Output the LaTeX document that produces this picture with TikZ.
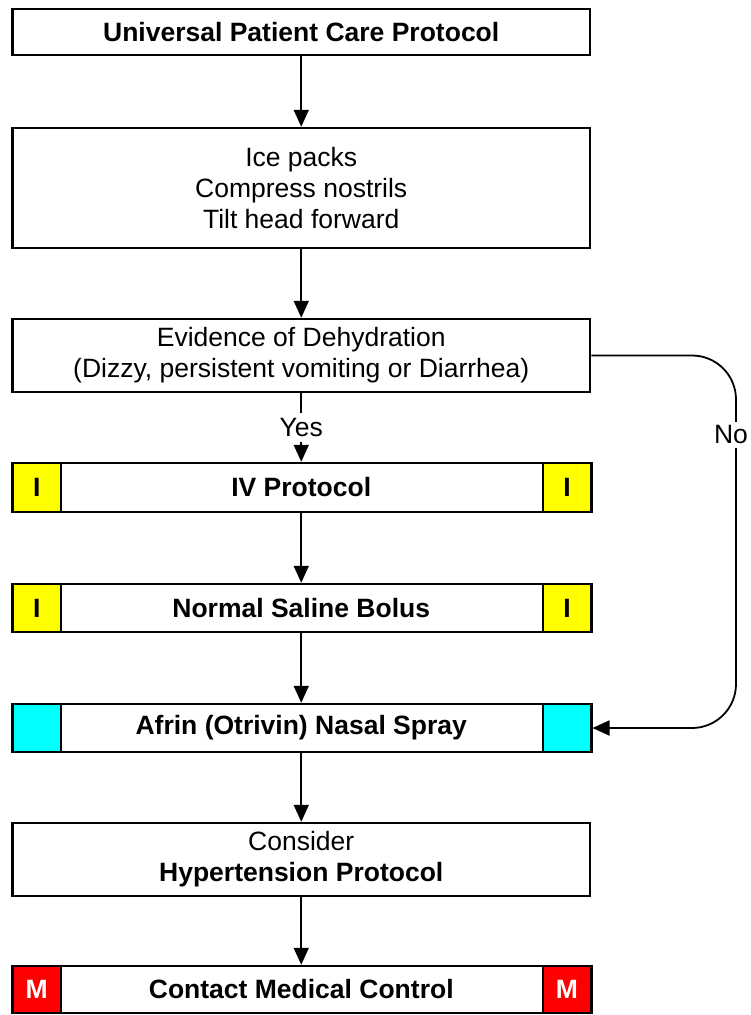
\documentclass[tikz,border=0pt]{standalone}
\usepackage{fontspec}
\setmainfont{Liberation Sans}
\usetikzlibrary{arrows.meta}
\definecolor{ryellow}{RGB}{255,255,0}
\definecolor{rcyan}{RGB}{0,255,255}
\definecolor{rred}{RGB}{255,0,0}
\begin{document}
\begin{tikzpicture}[x=1pt,y=-1pt,
  txt/.style={font=\fontsize{26.5pt}{31pt}\selectfont},
  box/.style={draw, line width=2.5pt, minimum width=577.5pt, align=center, inner sep=0pt, fill=white, txt},
  side/.style={draw, line width=2.5pt, minimum width=48.5pt, inner sep=0pt, font=\fontsize{26.5pt}{31pt}\selectfont\bfseries},
  arr/.style={line width=1.8pt, -{Triangle[length=17pt,width=15pt]}},
]
\useasboundingbox (0,0) rectangle (750,1015);

\node[box, minimum height=46pt] (b1) at (301.25,32) {\textbf{Universal Patient Care Protocol}};
\node[box, minimum height=120pt] (b2) at (301.25,188) {Ice packs\\Compress nostrils\\Tilt head forward};
\node[box, minimum height=73pt] (b3) at (301.25,355.5) {Evidence of Dehydration\\(Dizzy, persistent vomiting or Diarrhea)};
\node[box, minimum height=49pt] (b4) at (301.25,487.5) {\textbf{IV Protocol}};
\node[side, minimum height=49pt, fill=ryellow] (b4l) at (36.75,487.5) {I};
\node[side, minimum height=49pt, fill=ryellow] (b4r) at (567,487.5) {I};
\node[box, minimum height=48pt] (b5) at (301.25,608) {\textbf{Normal Saline Bolus}};
\node[side, minimum height=48pt, fill=ryellow] (b5l) at (36.75,608) {I};
\node[side, minimum height=48pt, fill=ryellow] (b5r) at (567,608) {I};
\node[box, minimum height=48pt] (b6) at (301.25,728) {\textbf{Afrin (Otrivin) Nasal Spray}};
\node[side, minimum height=48pt, fill=rcyan] (b6l) at (36.75,728) {};
\node[side, minimum height=48pt, fill=rcyan] (b6r) at (567,728) {};
\node[box, minimum height=73pt] (b7) at (301.25,859.5) {Consider\\\textbf{Hypertension Protocol}};
\node[box, minimum height=47pt] (b8) at (301.25,989.5) {\textbf{Contact Medical Control}};
\node[side, minimum height=47pt, fill=rred, text=white] (b8l) at (36.75,989.5) {M};
\node[side, minimum height=47pt, fill=rred, text=white] (b8r) at (567,989.5) {M};

\draw[arr] (b1) -- (b2);
\draw[arr] (b2) -- (b3);
\draw[arr] (b3) -- node[fill=white, txt, inner sep=5pt] {Yes} (b4);
\draw[arr] (b4) -- (b5);
\draw[arr] (b5) -- (b6);
\draw[arr] (b6) -- (b7);
\draw[arr] (b7) -- (b8);

\coordinate (nc) at (736,728);
\draw[arr, rounded corners=44pt] (b3.east) -| (nc) -- (b6r.east);
\node[fill=white, txt, inner sep=4pt] (no) at (731,435) {No};
\end{tikzpicture}
\end{document}
